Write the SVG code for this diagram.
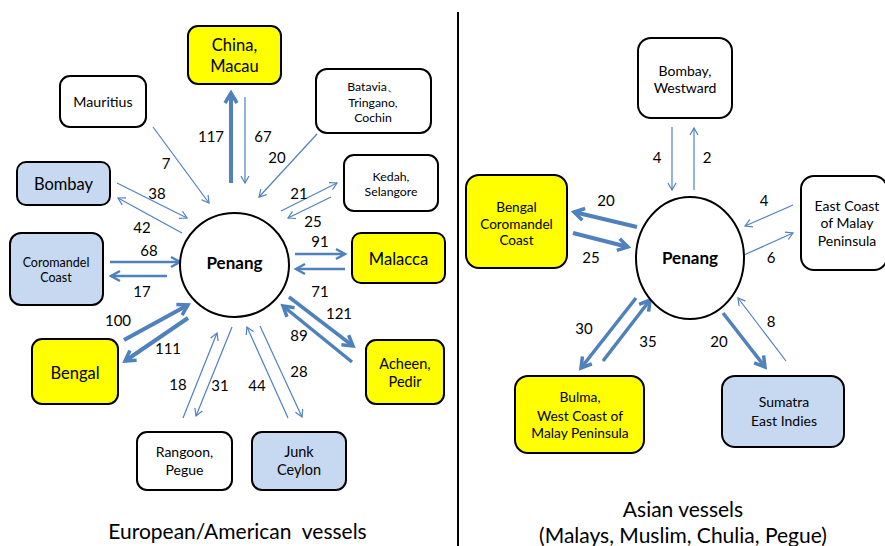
<svg xmlns="http://www.w3.org/2000/svg" width="885" height="546" viewBox="0 0 885 546">
<style>
.box{stroke:#000;stroke-width:2;}
.w{fill:#fff}.y{fill:#ffff00}.b{fill:#c6d9f1}
text{font-family:Lato,"Liberation Sans",sans-serif;fill:#000;text-anchor:middle}
.lbl{font-size:15px}
.c{stroke:#4f81bd;fill:none}
.t{stroke-width:1.2;marker-end:url(#at)}
.m{stroke-width:2.5;marker-end:url(#am)}
.k{stroke-width:4;marker-end:url(#ak)}
.k3{stroke-width:3.5;marker-end:url(#ak)}
</style>
<defs>
<marker id="at" markerUnits="userSpaceOnUse" markerWidth="20" markerHeight="20" refX="0" refY="0" orient="auto" overflow="visible"><path d="M-7,-4 L0,0 L-7,4" fill="none" stroke="#4f81bd" stroke-width="1.2"/></marker>
<marker id="am" markerUnits="userSpaceOnUse" markerWidth="20" markerHeight="20" refX="0" refY="0" orient="auto" overflow="visible"><path d="M-9,-5 L0,0 L-9,5" fill="none" stroke="#4f81bd" stroke-width="2.5"/></marker>
<marker id="ak" markerUnits="userSpaceOnUse" markerWidth="20" markerHeight="20" refX="0" refY="0" orient="auto" overflow="visible"><path d="M-10,-6 L0,0 L-10,6" fill="none" stroke="#4f81bd" stroke-width="3.5"/></marker>
</defs>
<rect width="885" height="546" fill="#fff"/>
<line x1="458" y1="12" x2="458" y2="546" stroke="#000" stroke-width="2"/>

<g id="connectors">
<line class="c k" x1="231" y1="183" x2="231" y2="93"/>
<line class="c t" x1="245" y1="97" x2="245" y2="183"/>
<line class="c t" x1="153" y1="127" x2="209" y2="203"/>
<line class="c t" x1="317" y1="134" x2="259" y2="197"/>
<line class="c t" x1="117" y1="183" x2="187" y2="218"/>
<line class="c t" x1="182" y1="233" x2="118" y2="198"/>
<line class="c t" x1="281" y1="211" x2="337" y2="183"/>
<line class="c t" x1="331" y1="197" x2="288" y2="218"/>
<line class="c m" x1="110" y1="262" x2="180" y2="262"/>
<line class="c m" x1="167" y1="276" x2="111" y2="276"/>
<line class="c m" x1="295" y1="254" x2="345" y2="254"/>
<line class="c m" x1="345" y1="269" x2="296" y2="269"/>
<line class="c k" x1="124" y1="340" x2="188" y2="305"/>
<line class="c k" x1="188" y1="318" x2="125" y2="361"/>
<line class="c k3" x1="289" y1="297" x2="353" y2="346"/>
<line class="c k3" x1="352" y1="362" x2="283" y2="306"/>
<line class="c t" x1="183" y1="418" x2="217" y2="333"/>
<line class="c t" x1="232" y1="327" x2="196" y2="416"/>
<line class="c t" x1="288" y1="418" x2="247" y2="327"/>
<line class="c t" x1="260" y1="326" x2="302" y2="417"/>

<line class="c t" x1="672" y1="127" x2="672" y2="190"/>
<line class="c t" x1="694" y1="190" x2="694" y2="128"/>
<line class="c k" x1="637" y1="227" x2="574" y2="212"/>
<line class="c k" x1="573" y1="233" x2="628" y2="247"/>
<line class="c t" x1="793" y1="205" x2="745" y2="226"/>
<line class="c t" x1="744" y1="255" x2="793" y2="233"/>
<line class="c k3" x1="636" y1="298" x2="581" y2="368"/>
<line class="c k3" x1="603" y1="361" x2="650" y2="300"/>
<line class="c k3" x1="723" y1="313" x2="765" y2="367"/>
<line class="c t" x1="786" y1="361" x2="738" y2="298"/>
</g>

<g id="labels" class="lbl">
<text x="211" y="141.5">117</text>
<text x="263" y="141.5">67</text>
<text x="277" y="162.5">20</text>
<text x="166" y="168.5">7</text>
<text x="157" y="198.5">38</text>
<text x="142" y="232.5">42</text>
<text x="299" y="198.5">21</text>
<text x="313" y="226.5">25</text>
<text x="149" y="255.5">68</text>
<text x="142" y="296.5">17</text>
<text x="320" y="246.5">91</text>
<text x="320" y="296.5">71</text>
<text x="118" y="325.5">100</text>
<text x="168" y="353.5">111</text>
<text x="339" y="318.5">121</text>
<text x="299" y="340.5">89</text>
<text x="299" y="376.5">28</text>
<text x="178" y="389.5">18</text>
<text x="220" y="390.5">31</text>
<text x="257" y="390.5">44</text>
<text x="657" y="162.5">4</text>
<text x="707" y="162.5">2</text>
<text x="606" y="205.5">20</text>
<text x="591" y="262.5">25</text>
<text x="764" y="205.5">4</text>
<text x="771" y="262.5">6</text>
<text x="584" y="333.5">30</text>
<text x="648" y="346.5">35</text>
<text x="719" y="346.5">20</text>
<text x="771" y="326.5">8</text>
</g>

<g id="penang-left"><ellipse cx="234.5" cy="265" rx="54.5" ry="52" fill="#fff" stroke="#000" stroke-width="2"/><text x="234.5" y="269" font-size="17" font-weight="bold">Penang</text></g>
<g id="china"><rect class="box y" x="188" y="26" width="93" height="58" rx="10"/><text x="234.5" y="51" font-size="16.5">China,</text><text x="234.5" y="71.5" font-size="16.5">Macau</text></g>
<g id="mauritius"><rect class="box w" x="60" y="76" width="86" height="51" rx="10"/><text x="103" y="107" font-size="14.2">Mauritius</text></g>
<g id="bombay-left"><rect class="box b" x="17" y="162" width="93" height="43" rx="9"/><text x="63.5" y="190" font-size="16.5">Bombay</text></g>
<g id="batavia"><rect class="box w" x="316" y="69" width="115" height="64" rx="11"/><text x="373" y="90.5" font-size="12.3">Batavia、</text><text x="373" y="106.5" font-size="12.3">Tringano,</text><text x="373" y="122" font-size="12.3">Cochin</text></g>
<g id="kedah"><rect class="box w" x="344" y="155" width="94" height="56" rx="10"/><text x="391" y="181" font-size="12.3">Kedah,</text><text x="391" y="196" font-size="12.3">Selangore</text></g>
<g id="coromandel-left"><rect class="box b" x="10" y="233" width="93" height="72" rx="11"/><text x="56" y="266.5" font-size="12.5">Coromandel</text><text x="56" y="281.5" font-size="12.5">Coast</text></g>
<g id="malacca"><rect class="box y" x="352" y="233" width="93" height="50" rx="9"/><text x="398.5" y="264.5" font-size="16.6">Malacca</text></g>
<g id="bengal"><rect class="box y" x="32" y="339" width="86" height="65" rx="10"/><text x="75" y="378.5" font-size="16.5">Bengal</text></g>
<g id="acheen"><rect class="box y" x="366" y="340" width="78" height="64" rx="10"/><text x="405" y="369" font-size="14.5">Acheen,</text><text x="405" y="387" font-size="14.5">Pedir</text></g>
<g id="rangoon"><rect class="box w" x="137" y="432" width="95" height="58" rx="10"/><text x="184.5" y="457" font-size="14">Rangoon,</text><text x="184.5" y="475" font-size="14">Pegue</text></g>
<g id="junk"><rect class="box b" x="252" y="432" width="94" height="58" rx="10"/><text x="299" y="457" font-size="14.5">Junk</text><text x="299" y="475" font-size="14.5">Ceylon</text></g>
<text x="237.5" y="538.5" font-size="21" xml:space="preserve">European/American  vessels</text>

<g id="penang-right"><ellipse cx="690" cy="258" rx="54" ry="61" fill="#fff" stroke="#000" stroke-width="2"/><text x="690" y="264" font-size="17" font-weight="bold">Penang</text></g>
<g id="bombay-westward"><rect class="box w" x="638" y="38" width="94" height="80" rx="13"/><text x="685" y="76" font-size="14">Bombay,</text><text x="685" y="93" font-size="14">Westward</text></g>
<g id="bengal-coromandel"><rect class="box y" x="466" y="175" width="101" height="93" rx="13"/><text x="516.5" y="212" font-size="13.6">Bengal</text><text x="516.5" y="228.5" font-size="13.6">Coromandel</text><text x="516.5" y="245" font-size="13.6">Coast</text></g>
<g id="east-coast"><rect class="box w" x="801" y="176" width="86" height="94" rx="13"/><text x="847" y="211" font-size="14">East Coast</text><text x="847" y="228" font-size="14">of Malay</text><text x="847" y="246" font-size="14">Peninsula</text></g>
<g id="bulma"><rect class="box y" x="515" y="376" width="129" height="77" rx="13"/><text x="580" y="402" font-size="13.8">Bulma,</text><text x="580" y="421" font-size="13.8">West Coast of</text><text x="580" y="438" font-size="13.8">Malay Peninsula</text></g>
<g id="sumatra"><rect class="box b" x="722" y="376" width="122" height="71" rx="13"/><text x="784" y="407" font-size="14">Sumatra</text><text x="784" y="426" font-size="14">East Indies</text></g>
<text x="683" y="516.5" font-size="21">Asian vessels</text>
<text x="683" y="543" font-size="21">(Malays, Muslim, Chulia, Pegue)</text>
</svg>
